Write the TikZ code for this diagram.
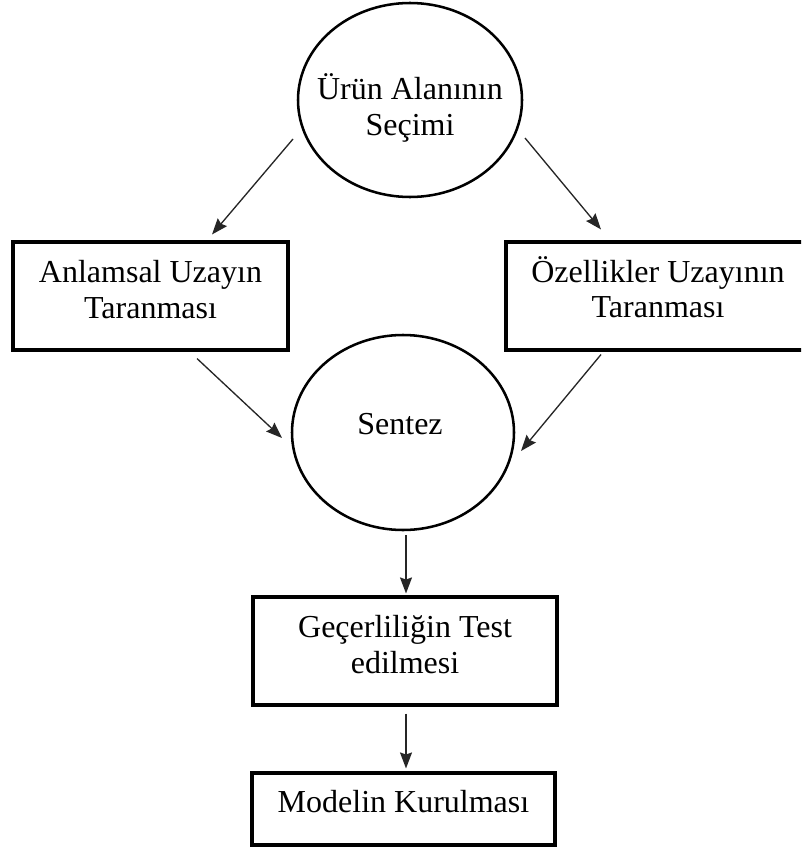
\documentclass[tikz,border=0pt]{standalone}
\usepackage{fontspec}
\setmainfont{Liberation Serif}
\usetikzlibrary{shapes.geometric,arrows.meta}
\begin{document}
\begin{tikzpicture}[x=0.75pt,y=-0.75pt,
  oval/.style={ellipse,draw,line width=1.9pt,inner sep=0pt},
  boxnode/.style={rectangle,draw,line width=2.3pt,inner sep=0pt},
  txt/.style={font=\fontsize{24}{26.5}\selectfont,align=center,inner sep=0pt},
  arr/.style={line width=1pt,draw=black!85,-{Stealth[length=12pt,width=9pt,inset=1.5pt]}}]
\useasboundingbox (0,0) rectangle (801,849);
\clip (0,0) rectangle (801,849);
% shapes
\node[oval,minimum width=168pt,minimum height=145.5pt] (T) at (410,100) {};
\node[boxnode,minimum width=206.25pt,minimum height=81pt] (L) at (150.5,296) {};
\node[boxnode,minimum width=228pt,minimum height=81pt] (R) at (658,296) {};
\node[oval,minimum width=166.5pt,minimum height=146.25pt] (S) at (403,432.5) {};
\node[boxnode,minimum width=228pt,minimum height=81pt] (M) at (405,651) {};
\node[boxnode,minimum width=227.25pt,minimum height=54pt] (B) at (403.5,809) {};
% texts
\node[txt] (Tt) at (410,108) {Ürün Alanının\\Seçimi};
\node[txt] (Lt) at (150.5,289.5) {Anlamsal Uzayın\\Taranması};
\node[txt] (Rt) at (658,287) {Özellikler Uzayının\\Taranması};
\node[txt] (St) at (400,424) {Sentez};
\node[txt] (Mt) at (405,644.5) {Geçerliliğin Test\\edilmesi};
\node[txt] (Bt) at (403.5,802) {Modelin Kurulması};
% connectors
\draw[arr] ([shift={(-117,39)}]T.center) -- ([shift={(61.5,-6)}]L.north);
\draw[arr] ([shift={(115,38)}]T.center) -- ([shift={(-57,-11)}]R.north);
\draw[arr] ([shift={(46.5,7)}]L.south) -- ([shift={(-121,5.5)}]S.center);
\draw[arr] ([shift={(-57,3)}]R.south) -- ([shift={(118,18.5)}]S.center);
\draw[arr] ([shift={(3,102.5)}]S.center) -- ([shift={(1,-2)}]M.north);
\draw[arr] ([shift={(1,7)}]M.south) -- ([shift={(2.5,-3)}]B.north);
\end{tikzpicture}
\end{document}
